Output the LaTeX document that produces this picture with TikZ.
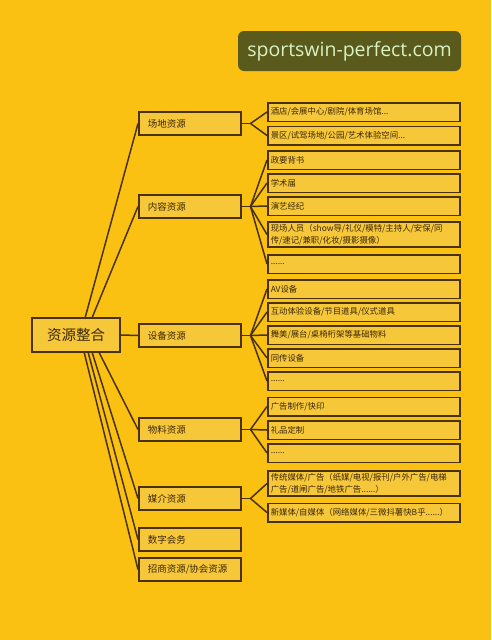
\documentclass[tikz,border=0pt]{standalone}
\usepackage{fontspec}
\setmainfont{Noto Sans CJK SC}
\newfontfamily\wmfont{Open Sans}
\usetikzlibrary{positioning}
\definecolor{bgyellow}{HTML}{FAC012}
\definecolor{boxyellow}{HTML}{F7C73A}
\definecolor{linebrown}{HTML}{4A3210}
\definecolor{txtbrown}{HTML}{3A280A}
\definecolor{wmgreen}{HTML}{595A1C}
\definecolor{wmtext}{HTML}{D9F2C4}
\tikzset{
  x=1pt, y=-1pt,
  box/.style={draw=linebrown, line width=1.5pt, fill=boxyellow, text=txtbrown},
  rootbox/.style={box, minimum width=88pt, minimum height=34pt, inner sep=0pt,
    font=\fontsize{14.5}{16}\selectfont},
  mainbox/.style={box, anchor=west, align=left, text width=84pt, inner xsep=9pt,
    inner ysep=0pt, minimum height=23pt, font=\fontsize{9.5}{12}\selectfont},
  leafbox/.style={box, anchor=west, align=left, text width=186pt, inner xsep=3pt,
    inner ysep=2pt, minimum height=18.5pt, font=\fontsize{8.4}{12}\selectfont},
  link/.style={draw=linebrown, line width=1.5pt},
}

\begin{document}
\begin{tikzpicture}
\fill[bgyellow] (0,0) rectangle (491,640);
\useasboundingbox (0,0) rectangle (491,640);
% watermark
\node[fill=wmgreen, rounded corners=6pt, minimum width=223pt, minimum height=40pt,
  text=wmtext, font=\wmfont\fontsize{19.5}{22}\selectfont] (wm) at (349.5,51) {sportswin-perfect.com};
% root
\node[rootbox] (root) at (76,335) {资源整合};
% first level
\node[mainbox] (venue) at (138,123.5) {场地资源};
\node[mainbox] (content) at (138,206.5) {内容资源};
\node[mainbox] (equip) at (138,335.5) {设备资源};
\node[mainbox] (material) at (138,429.5) {物料资源};
\node[mainbox] (media) at (138,498.5) {媒介资源};
\node[mainbox] (digital) at (138,539.5) {数字会务};
\node[mainbox] (invest) at (138,569.5) {招商资源/协会资源};
% second level
\node[leafbox] (venue1) at (267,112) {酒店/会展中心/剧院/体育场馆...};
\node[leafbox] (venue2) at (267,135.5) {景区/试驾场地/公园/艺术体验空间...};
\node[leafbox] (content1) at (267,160) {政要背书};
\node[leafbox] (content2) at (267,183) {学术届};
\node[leafbox] (content3) at (267,206) {演艺经纪};
\node[leafbox] (content4) at (267,234.5) {现场人员（show导/礼仪/模特/主持人/安保/同\\传/速记/兼职/化妆/摄影摄像）};
\node[leafbox] (content5) at (267,264) {......};
\node[leafbox] (equip1) at (267,289) {AV设备};
\node[leafbox] (equip2) at (267,312) {互动体验设备/节目道具/仪式道具};
\node[leafbox] (equip3) at (267,335) {舞美/展台/桌椅桁架等基础物料};
\node[leafbox] (equip4) at (267,358) {同传设备};
\node[leafbox] (equip5) at (267,381) {......};
\node[leafbox] (material1) at (267,406.5) {广告制作/快印};
\node[leafbox] (material2) at (267,430) {礼品定制};
\node[leafbox] (material3) at (267,453) {......};
\node[leafbox] (media1) at (267,483.5) {传统媒体/广告（纸媒/电视/报刊/户外广告/电梯\\广告/道闸广告/地铁广告......）};
\node[leafbox] (media2) at (267,512.5) {新媒体/自媒体（网络媒体/三微抖薯快B乎......）};
% root to first level
\draw[link] ([xshift=54pt]root.north west) -- (venue.west);
\draw[link] ([xshift=61pt]root.north west) -- (content.west);
\draw[link] (root.east) -- (equip.west);
\draw[link] ([xshift=68pt]root.south west) -- (material.west);
\draw[link] ([xshift=61pt]root.south west) -- (media.west);
\draw[link] ([xshift=57pt]root.south west) -- (digital.west);
\draw[link] ([xshift=53pt]root.south west) -- (invest.west);
% first level to second level
\foreach \p/\kids in {venue/{venue1,venue2},
    content/{content1,content2,content3,content4,content5},
    equip/{equip1,equip2,equip3,equip4,equip5},
    material/{material1,material2,material3},
    media/{media1,media2}}{
  \coordinate (\p-fork) at ([xshift=9pt]\p.east);
  \draw[link] (\p.east) -- (\p-fork);
  \foreach \c in \kids {\draw[link] (\p-fork) -- (\c.west);}
}
\end{tikzpicture}
\end{document}
